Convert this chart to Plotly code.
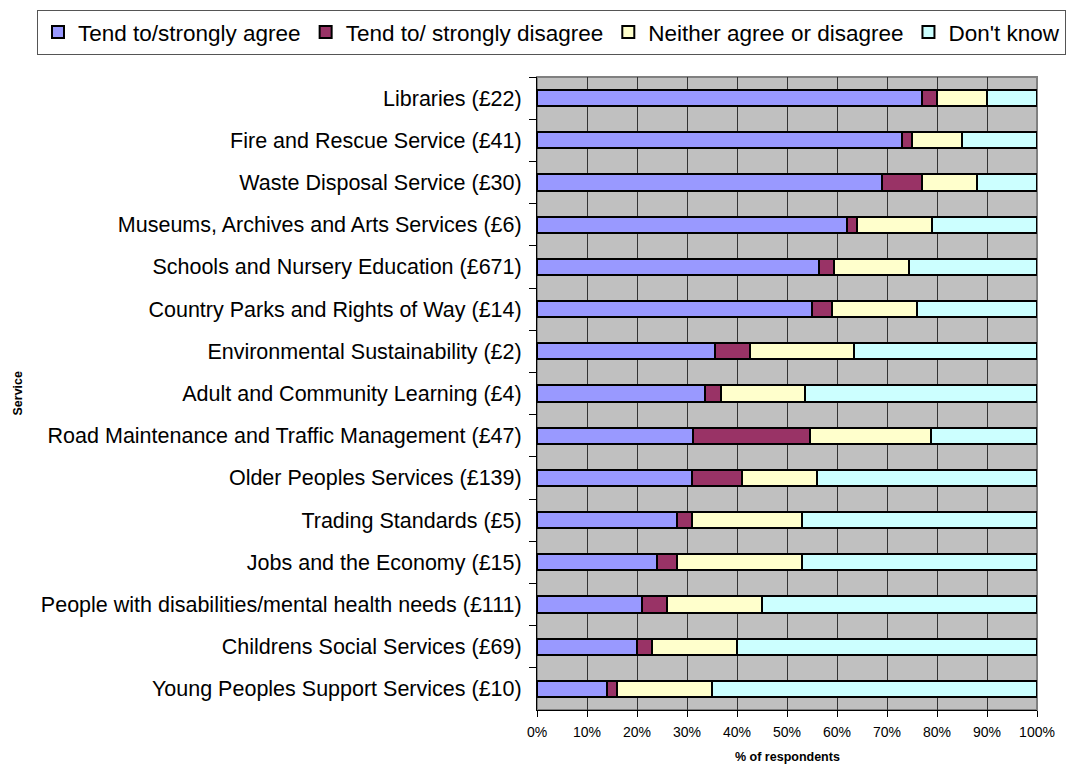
import plotly.graph_objects as go

# Services (top to bottom) with spend per household in brackets
services = [
    "Libraries (£22)",
    "Fire and Rescue Service (£41)",
    "Waste Disposal Service (£30)",
    "Museums, Archives and Arts Services (£6)",
    "Schools and Nursery Education (£671)",
    "Country Parks and Rights of Way (£14)",
    "Environmental Sustainability (£2)",
    "Adult and Community Learning (£4)",
    "Road Maintenance and Traffic Management (£47)",
    "Older Peoples Services (£139)",
    "Trading Standards (£5)",
    "Jobs and the Economy (£15)",
    "People with disabilities/mental health needs (£111)",
    "Childrens Social Services (£69)",
    "Young Peoples Support Services (£10)",
]

# % of respondents per response
agree = [77, 73, 69, 62, 56.3, 55, 35.5, 33.5, 31.2, 31, 28, 24, 21, 20, 14]
disagree = [3, 2, 8, 2, 3, 4, 7, 3.2, 23.3, 10, 3, 4, 5, 3, 2]
neither = [10, 10, 11, 15, 15, 17, 20.8, 16.8, 24.2, 15, 22, 25, 19, 17, 19]
dont_know = [10, 15, 12, 21, 25.7, 24, 36.7, 46.5, 21.3, 44, 47, 47, 55, 60, 65]

series = [
    ("Tend to/strongly agree", agree, "#9999FF"),
    ("Tend to/ strongly disagree", disagree, "#993366"),
    ("Neither agree or disagree", neither, "#FFFFCC"),
    ("Don't know", dont_know, "#CCFFFF"),
]

FONT = "Liberation Sans, Arial, sans-serif"

fig = go.Figure()
for name, vals, colour in series:
    fig.add_trace(go.Bar(
        y=services, x=vals, name=name, orientation="h",
        marker=dict(color=colour, line=dict(color="black", width=2)),
    ))

fig.update_layout(
    barmode="stack",
    bargap=0.62,
    width=1084, height=765,
    margin=dict(l=537, r=47, t=77, b=55, autoexpand=False),
    paper_bgcolor="white",
    plot_bgcolor="#C0C0C0",
    font=dict(family=FONT, color="black"),
    showlegend=True,
    legend=dict(
        orientation="h", x=-1.0, y=1.106, xanchor="left", yanchor="top",
        font=dict(size=22.5, family=FONT), bordercolor="#555", borderwidth=1,
        itemwidth=30, traceorder="normal", tracegroupgap=0,
    ),
    xaxis=dict(
        range=[0, 100], dtick=10, ticksuffix="%",
        showgrid=True, gridcolor="#333", gridwidth=1,
        showline=True, linecolor="black", linewidth=1,
        ticks="outside", ticklen=6, tickcolor="black",
        tickfont=dict(size=14), ticklabelstandoff=3,
        zeroline=False, fixedrange=True,
    ),
    yaxis=dict(
        autorange="reversed", type="category", tickson="boundaries",
        showline=True, linecolor="black", linewidth=1,
        ticks="outside", ticklen=7, tickcolor="black",
        tickfont=dict(size=21.5), ticklabelstandoff=10, fixedrange=True,
    ),
    shapes=[
        # grey frame round the plotting area
        dict(type="rect", xref="paper", yref="paper", x0=0, x1=1, y0=0, y1=1,
             line=dict(color="#808080", width=2), layer="below"),
    ],
    annotations=[
        dict(text="<b>Service</b>", textangle=-90, xref="paper", yref="paper",
             x=-1.04, y=0.5, xanchor="center", yanchor="middle",
             showarrow=False, font=dict(size=12.5)),
        dict(text="<b>% of respondents</b>", xref="paper", yref="paper",
             x=0.5, y=-0.0735, xanchor="center", yanchor="middle",
             showarrow=False, font=dict(size=12.5)),
    ],
)

fig.write_html("out.html")
